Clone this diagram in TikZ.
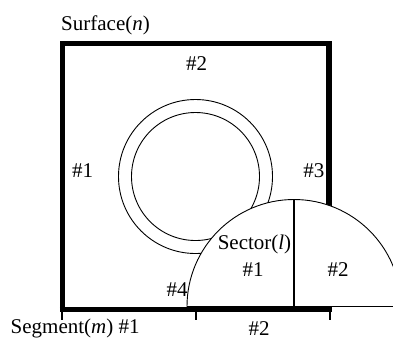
\documentclass[tikz,border=0pt]{standalone}
\usepackage{fontspec}
\setmainfont{Liberation Serif}
\begin{document}
\begin{tikzpicture}[x=1pt,y=-1pt,
  thick border/.style={line width=5.5pt},
  thin line/.style={line width=0.9pt},
  tickmark/.style={line width=1.6pt},
  lbl/.style={font=\fontsize{21}{25}\selectfont, inner sep=0pt, anchor=base}]
\useasboundingbox (0,0) rectangle (393,341);
\clip (0,0) rectangle (393,341);
% square (surface)
\draw[thick border, line join=miter] (62.5,309.5) -- (62.5,43.5) -- (329,43.5) -- (329,309.5);
% rings
\coordinate (c) at (195.5,176.5);
\draw[thin line] (c) circle[radius=77];
\draw[thin line] (c) circle[radius=64];
% sector
\coordinate (s) at (294,306.5);
\draw[thin line, fill=white] (187,306.5) arc[start angle=180, end angle=360, radius=107] -- cycle;
\draw[line width=1.4pt] (s) -- (294,199.5);
\draw[thin line] (187,306.5) -- (393,306.5);
% bottom edge
\draw[thick border] (59.75,309.5) -- (331.75,309.5);
% ticks
\draw[line width=2pt] (62,312) -- (62,320);
\draw[tickmark] (196,312) -- (196,320);
\draw[tickmark] (330,312) -- (330,320);
% labels
\node[lbl, anchor=base west] (surf) at (61,30) {Surface(\textit{n})};
\node[lbl] (s2) at (196.7,70) {\#2};
\node[lbl] (s1) at (82.5,177.7) {\#1};
\node[lbl] (s3) at (313.8,177.7) {\#3};
\node[lbl] (s4) at (177,296) {\#4};
\node[lbl] (sec) at (254.5,249) {Sector(\textit{l})};
\node[lbl] (sec1) at (253,276) {\#1};
\node[lbl] (sec2) at (338,276) {\#2};
\node[lbl, anchor=base west] (seg) at (10.5,333.5) {Segment(\textit{m}) \#1};
\node[lbl] (seg2) at (259,335) {\#2};
\end{tikzpicture}
\end{document}
